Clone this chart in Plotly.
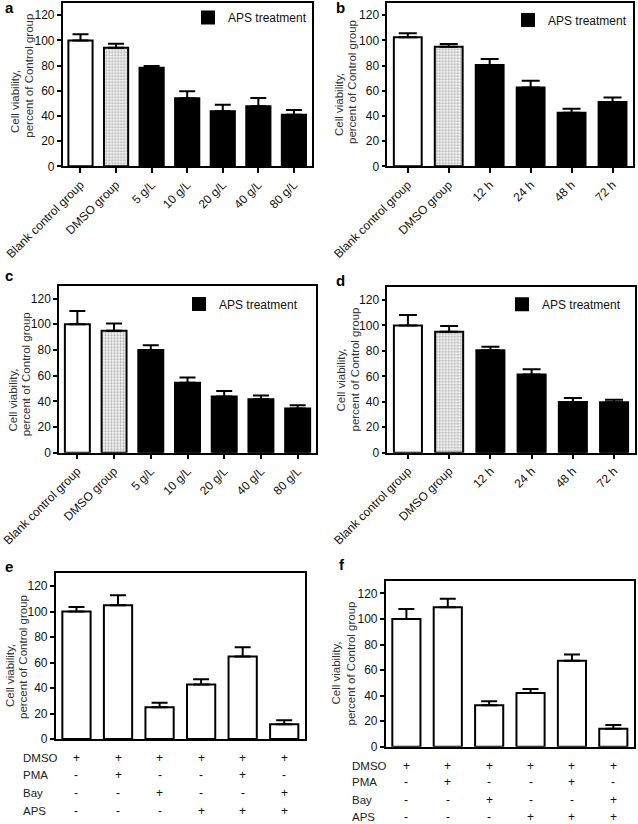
import plotly.graph_objects as go

# ---------------- data ----------------
conc_cats = ["Blank control group", "DMSO group", "5 g/L", "10 g/L", "20 g/L", "40 g/L", "80 g/L"]
time_cats = ["Blank control group", "DMSO group", "12 h", "24 h", "48 h", "72 h"]

a_vals = [100, 94.2, 78.4, 54.0, 43.8, 47.7, 40.9]
a_err = [5.0, 3.2, 1.3, 5.6, 5.2, 6.6, 3.9]

b_vals = [102.5, 95.0, 80.5, 62.6, 42.5, 51.0]
b_err = [3.2, 2.2, 4.8, 5.4, 3.2, 3.7]

c_vals = [100, 94.9, 80.0, 54.5, 43.8, 41.7, 34.4]
c_err = [10.4, 5.7, 3.6, 4.0, 4.2, 2.9, 2.6]

d_vals = [100, 95.0, 80.6, 61.4, 39.9, 39.6]
d_err = [8.3, 4.5, 2.6, 4.2, 3.1, 2.1]

ef_groups = [0, 1, 2, 3, 4, 5]
e_vals = [100, 105.0, 24.9, 42.7, 64.7, 11.5]
e_err = [3.5, 7.7, 3.6, 4.2, 7.3, 3.2]
f_vals = [100, 109.3, 32.4, 42.0, 67.3, 14.1]
f_err = [7.8, 6.5, 3.1, 3.2, 5.0, 2.9]

treat_rows = ["DMSO", "PMA", "Bay", "APS"]
treat_DMSO = ["+", "+", "+", "+", "+", "+"]
treat_PMA = ["-", "+", "-", "-", "+", "-"]
treat_Bay = ["-", "-", "+", "-", "-", "+"]
treat_APS = ["-", "-", "-", "+", "+", "+"]

y_ticks = [0, 20, 40, 60, 80, 100, 120]
y_title_lines = ["Cell viability,", "percent of Control group"]
legend_name = "APS treatment"

# ---------------- layout helpers ----------------
W, H = 638, 824
FONT = "Arial, Liberation Sans, sans-serif"


def dx(l, r):
    return [l / W, r / W]


def dy(t, b):
    return [1 - b / H, 1 - t / H]


panels = [
    dict(letter="a", cats=conc_cats, vals=a_vals, err=a_err, xd=(62.7, 311.7), yd=(2.7, 166.3),
         leg=(188, 17.5), lab=(3, 8), cap=8, tt=[(15, 102), (28.7, 76)]),
    dict(letter="b", cats=time_cats, vals=b_vals, err=b_err, xd=(387.3, 633), yd=(2.7, 166.3),
         leg=(508, 20), lab=(334, 8), cap=9, tt=[(339, 105), (352, 82)]),
    dict(letter="c", cats=conc_cats, vals=c_vals, err=c_err, xd=(59, 316), yd=(285.7, 452.7),
         leg=(179, 304), lab=(3, 275.5), cap=8, tt=[(12.5, 400), (26.3, 374)]),
    dict(letter="d", cats=time_cats, vals=d_vals, err=d_err, xd=(387.3, 634.7), yd=(287.3, 452.7),
         leg=(502, 304.3), lab=(334, 280.5), cap=9, tt=[(340.5, 380), (354.5, 370)]),
    dict(letter="e", cats=ef_groups, vals=e_vals, err=e_err, xd=(55.7, 305), yd=(573.3, 739),
         lab=(3, 566), cap=8, rows_y=[757.5, 775, 792.7, 810.7], row_x=20.5,
         tt=[(10, 676), (22.5, 657.5)]),
    dict(letter="f", cats=ef_groups, vals=f_vals, err=f_err, xd=(385.7, 634), yd=(580.7, 746.7),
         lab=(337, 564.5), cap=8, rows_y=[765.7, 782.3, 800, 817.3], row_x=350.3,
         tt=[(335.5, 673), (350.5, 663)]),
]

fig = go.Figure()
annotations = []
layout = {}

white = dict(color="white", line=dict(color="black", width=2))
dotted = dict(color="#d9d9d9", line=dict(color="black", width=2),
              pattern=dict(shape=".", fgcolor="#5a5a5a", bgcolor="#f4f4f4", size=3, solidity=0.35))
black = dict(color="black", line=dict(color="black", width=2))


def errs(vals, cap):
    return dict(type="data", symmetric=False, array=vals, arrayminus=[0] * len(vals),
                color="black", thickness=2, width=cap)


for i, p in enumerate(panels, start=1):
    xa = "x" if i == 1 else f"x{i}"
    ya = "y" if i == 1 else f"y{i}"
    cats, vals, err = p["cats"], p["vals"], p["err"]
    n = len(cats)
    cap = p["cap"]

    if p["letter"] in "abcd":
        leg_id = "legend" if i == 1 else f"legend{i}"
        fig.add_trace(go.Bar(x=cats[:1], y=vals[:1], error_y=errs(err[:1], cap), marker=white,
                             xaxis=xa, yaxis=ya, showlegend=False))
        fig.add_trace(go.Bar(x=cats[1:2], y=vals[1:2], error_y=errs(err[1:2], cap), marker=dotted,
                             xaxis=xa, yaxis=ya, showlegend=False))
        fig.add_trace(go.Bar(x=cats[2:], y=vals[2:], error_y=errs(err[2:], cap), marker=black,
                             xaxis=xa, yaxis=ya, name=legend_name, showlegend=True, legend=leg_id))
        layout[leg_id] = dict(
            x=p["leg"][0] / W, y=1 - p["leg"][1] / H, xanchor="left", yanchor="middle",
            bgcolor="rgba(0,0,0,0)", borderwidth=0,
            font=dict(family=FONT, size=12, color="#111"))
        xaxis = dict(type="category", categoryorder="array", categoryarray=cats,
                     tickangle=-45, ticks="outside", ticklen=5, tickwidth=1.5, tickcolor="black",
                     tickfont=dict(family=FONT, size=12, color="#111"))
    else:
        fig.add_trace(go.Bar(x=cats, y=vals, error_y=errs(err, cap), marker=white,
                             xaxis=xa, yaxis=ya, showlegend=False))
        xaxis = dict(type="linear", showticklabels=False, ticks="")
        rows = [treat_DMSO, treat_PMA, treat_Bay, treat_APS]
        for name, row, yy in zip(treat_rows, rows, p["rows_y"]):
            annotations.append(dict(text=name, xref="paper", yref="paper", x=p["row_x"] / W,
                                    y=1 - yy / H, xanchor="left", yanchor="middle", showarrow=False,
                                    font=dict(family=FONT, size=11.5, color="#222")))
            for g, sym in zip(cats, row):
                annotations.append(dict(text=sym, xref=xa, yref="paper", x=g, y=1 - yy / H,
                                        xanchor="center", yanchor="middle", showarrow=False,
                                        font=dict(family=FONT, size=12, color="#111")))

    xaxis.update(domain=dx(*p["xd"]), anchor=ya, range=[-0.5, n - 0.5], automargin=False,
                 showline=True, linecolor="black", linewidth=1.5, mirror=True,
                 showgrid=False, zeroline=False)
    yaxis = dict(domain=dy(*p["yd"]), anchor=xa, range=[0, 130], tickvals=y_ticks, automargin=False,
                 ticks="outside", ticklen=4, tickwidth=1.5, tickcolor="black",
                 showline=True, linecolor="black", linewidth=1.5, mirror=True,
                 showgrid=False, zeroline=False,
                 tickfont=dict(family=FONT, size=12, color="#111"))
    layout["xaxis" if i == 1 else f"xaxis{i}"] = xaxis
    layout["yaxis" if i == 1 else f"yaxis{i}"] = yaxis

    # y-axis title (two lines, rotated)
    for line, (tx, ty) in zip(y_title_lines, p["tt"]):
        annotations.append(dict(text=line, xref="paper", yref="paper", x=tx / W, y=1 - ty / H,
                                xanchor="center", yanchor="middle", textangle=-90, showarrow=False,
                                font=dict(family=FONT, size=11.5, color="#333")))

    annotations.append(dict(text=f"<b>{p['letter']}</b>", xref="paper", yref="paper",
                            x=p["lab"][0] / W, y=1 - p["lab"][1] / H, xanchor="left", yanchor="middle",
                            showarrow=False, font=dict(family=FONT, size=15, color="black")))

fig.update_layout(**layout)
fig.update_layout(width=W, height=H, margin=dict(l=0, r=0, t=0, b=0, autoexpand=False),
                  paper_bgcolor="white", plot_bgcolor="white",
                  barmode="overlay", bargap=0.32, annotations=annotations,
                  font=dict(family=FONT))
fig.write_html("out.html", config={"displayModeBar": False},
               post_script="document.body.style.margin='0';document.body.style.overflow='hidden';")
